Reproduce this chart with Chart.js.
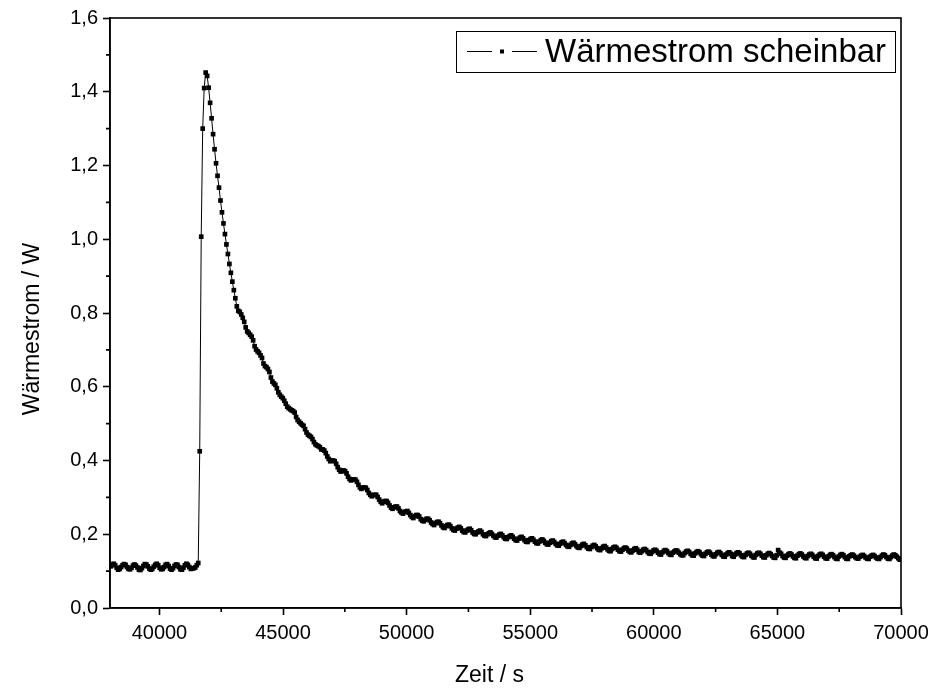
<!DOCTYPE html>
<html>
<head>
<meta charset="utf-8">
<script src="https://cdn.jsdelivr.net/npm/chart.js@4/dist/chart.umd.min.js"></script>
<style>
  body { margin: 0; background: #fff; }
  #wrap { width: 935px; height: 693px; }
</style>
</head>
<body>
<div id="wrap"><canvas id="heatChart" width="935" height="693"></canvas></div>
<script>
// sampling of the measurement (s)
const timeStart = 38030;
const timeStep = 60;

// Wärmestrom scheinbar (W)
const baselineValues = [
    0.113, 0.118, 0.120, 0.116, 0.109, 0.104, 0.106,
    0.111, 0.116, 0.119, 0.117, 0.111, 0.106, 0.105,
    0.109, 0.115, 0.118, 0.115, 0.110, 0.104, 0.103,
    0.108, 0.114, 0.119, 0.118, 0.113, 0.107, 0.104, 0.106,
    0.112, 0.117, 0.120, 0.116, 0.109, 0.105, 0.106,
    0.111, 0.117, 0.119, 0.114, 0.107, 0.104,
    0.108, 0.114, 0.118, 0.117, 0.111, 0.105, 0.104,
    0.109, 0.116, 0.120, 0.117, 0.111, 0.106, 0.107,
    0.108, 0.110, 0.116, 0.122
];

const peakValues = [
    0.425, 1.007, 1.300, 1.410, 1.452, 1.443, 1.411, 1.370, 1.328, 1.285,
    1.244, 1.206, 1.172, 1.140, 1.105, 1.073, 1.043, 1.014, 0.986, 0.960,
    0.933, 0.909, 0.885, 0.862, 0.840, 0.818
];

const decayValues = [
    0.806, 0.803, 0.796, 0.787, 0.776, 0.761, 0.750, 0.746, 0.741, 0.736,
    0.726, 0.710, 0.701, 0.696, 0.692, 0.685, 0.678, 0.663, 0.656, 0.653,
    0.648, 0.640, 0.625, 0.614, 0.609, 0.605, 0.596, 0.585, 0.578, 0.573,
    0.569, 0.562, 0.554, 0.546, 0.542, 0.539, 0.536, 0.534, 0.530, 0.518,
    0.510, 0.505, 0.501, 0.497, 0.494, 0.485, 0.476, 0.470, 0.467, 0.464,
    0.458, 0.450, 0.444, 0.441, 0.439, 0.436
];

const slowDecayValues = [
    0.430, 0.430, 0.427, 0.420, 0.411, 0.404, 0.398,
    0.400, 0.400, 0.398, 0.391, 0.382, 0.375, 0.370,
    0.372, 0.373, 0.371, 0.365, 0.356, 0.350, 0.346,
    0.348, 0.349, 0.348, 0.342, 0.334, 0.327, 0.323,
    0.326, 0.327, 0.326, 0.320, 0.312, 0.307, 0.303,
    0.306, 0.307, 0.307, 0.301, 0.294, 0.288, 0.284,
    0.288, 0.290, 0.290, 0.285, 0.278, 0.272, 0.269,
    0.273, 0.275, 0.275, 0.270, 0.263, 0.259, 0.256,
    0.260, 0.262, 0.263, 0.258, 0.252, 0.247, 0.244,
    0.249, 0.252, 0.252, 0.248, 0.241, 0.237, 0.235,
    0.239, 0.242, 0.242, 0.238, 0.232, 0.228, 0.225,
    0.230, 0.233, 0.234, 0.230, 0.224, 0.219, 0.217,
    0.222, 0.225, 0.226, 0.222, 0.216, 0.212, 0.210,
    0.215, 0.218, 0.220, 0.216, 0.210, 0.206, 0.205,
    0.210, 0.213, 0.215, 0.211, 0.205, 0.201, 0.200,
    0.205, 0.208, 0.210, 0.206, 0.200, 0.196, 0.195,
    0.200, 0.203, 0.205, 0.201, 0.196, 0.192, 0.191,
    0.196, 0.199, 0.201, 0.197, 0.192, 0.188, 0.187,
    0.192, 0.195, 0.197, 0.193, 0.188, 0.184, 0.183,
    0.188, 0.191, 0.193, 0.189, 0.184, 0.180, 0.179,
    0.184, 0.187, 0.189, 0.185, 0.180, 0.176, 0.175,
    0.180, 0.184, 0.186, 0.182, 0.177, 0.173, 0.172,
    0.177, 0.181, 0.183, 0.179, 0.174, 0.170, 0.169,
    0.174, 0.178, 0.180, 0.176, 0.171, 0.167, 0.166,
    0.171, 0.175, 0.177, 0.173, 0.168, 0.164, 0.163,
    0.168, 0.172, 0.174, 0.170, 0.165, 0.161, 0.160,
    0.165, 0.169, 0.171, 0.167, 0.162, 0.158, 0.157,
    0.162, 0.166, 0.168, 0.164, 0.159, 0.155, 0.154,
    0.160, 0.164, 0.166, 0.163, 0.158, 0.154, 0.153,
    0.158, 0.162, 0.164, 0.161, 0.156, 0.152, 0.151
];

const tailValues = [
    0.156, 0.160, 0.162, 0.158, 0.152, 0.150,
    0.154, 0.158, 0.160, 0.157, 0.152, 0.148, 0.147,
    0.152, 0.156, 0.158, 0.155, 0.150, 0.146, 0.145,
    0.151, 0.155, 0.157, 0.154, 0.149, 0.145, 0.144,
    0.150, 0.153, 0.156, 0.155, 0.150, 0.146, 0.143, 0.143,
    0.149, 0.153, 0.155, 0.152, 0.147, 0.143, 0.142,
    0.148, 0.152, 0.154, 0.151, 0.146, 0.142, 0.141,
    0.147, 0.151, 0.153, 0.150, 0.145, 0.141, 0.140,
    0.146, 0.150, 0.152, 0.149, 0.144, 0.140, 0.139,
    0.145, 0.149, 0.151, 0.147, 0.141, 0.139,
    0.145, 0.149, 0.151, 0.148, 0.143, 0.139, 0.138,
    0.144, 0.148, 0.150, 0.147, 0.142, 0.138, 0.137,
    0.144, 0.148, 0.150, 0.147, 0.142, 0.138, 0.137,
    0.143, 0.147, 0.149, 0.146, 0.141, 0.137, 0.136,
    0.143, 0.157, 0.150, 0.147, 0.141, 0.137, 0.136,
    0.142, 0.146, 0.148, 0.145, 0.140, 0.136, 0.135,
    0.142, 0.146, 0.148, 0.145, 0.140, 0.136, 0.135,
    0.141, 0.145, 0.147, 0.144, 0.139, 0.135, 0.134,
    0.141, 0.145, 0.147, 0.144, 0.139, 0.135, 0.134,
    0.140, 0.144, 0.146, 0.143, 0.138, 0.134, 0.133,
    0.140, 0.144, 0.146, 0.143, 0.138, 0.134, 0.133,
    0.140, 0.143, 0.145, 0.142, 0.138, 0.135, 0.134,
    0.139, 0.142, 0.144, 0.141, 0.137, 0.134, 0.133,
    0.139, 0.142, 0.144, 0.141, 0.137, 0.134, 0.133,
    0.138, 0.142, 0.145, 0.143, 0.138, 0.134, 0.133,
    0.138, 0.142, 0.145, 0.143, 0.139, 0.135, 0.131
];

const xTicks = [40000, 45000, 50000, 55000, 60000, 65000, 70000];
const xMinorTicks = [42500, 47500, 52500, 57500, 62500, 67500];
const yTicks = [0, 0.2, 0.4, 0.6, 0.8, 1.0, 1.2, 1.4, 1.6];
const yMinorTicks = [0.1, 0.3, 0.5, 0.7, 0.9, 1.1, 1.3, 1.5];

const seriesLabel = 'Wärmestrom scheinbar';
const fontFamily = '"Liberation Sans", Arial, sans-serif';

const heatFlow = [].concat(baselineValues, peakValues, decayValues, slowDecayValues, tailValues);
const points = heatFlow.map((v, i) => ({ x: timeStart + i * timeStep, y: v }));

// frame on all four sides plus the short minor ticks
const frameAndMinorTicks = {
    id: 'frameAndMinorTicks',
    afterDraw(chart) {
        const { ctx, chartArea: a, scales } = chart;
        ctx.save();
        ctx.strokeStyle = '#000';
        ctx.lineWidth = 1.6;
        ctx.strokeRect(a.left, a.top, a.right - a.left, a.bottom - a.top);
        ctx.beginPath();
        xMinorTicks.forEach(v => {
            const px = scales.x.getPixelForValue(v);
            ctx.moveTo(px, a.bottom);
            ctx.lineTo(px, a.bottom + 4);
        });
        yMinorTicks.forEach(v => {
            const py = scales.y.getPixelForValue(v);
            ctx.moveTo(a.left, py);
            ctx.lineTo(a.left - 4, py);
        });
        ctx.stroke();
        ctx.restore();
    }
};

// boxed legend like the original: line - marker - line, then the label
const boxedLegend = {
    id: 'boxedLegend',
    afterDraw(chart) {
        const { ctx, chartArea: a } = chart;
        const right = a.right - 6;
        const left = right - 439;
        const top = a.top + 13;
        const h = 41;
        const cy = top + h / 2;
        ctx.save();
        ctx.fillStyle = '#fff';
        ctx.fillRect(left, top, right - left, h);
        ctx.strokeStyle = '#000';
        ctx.lineWidth = 1;
        ctx.strokeRect(left + 0.5, top + 0.5, right - left, h);
        ctx.beginPath();
        ctx.moveTo(left + 11, cy);
        ctx.lineTo(left + 36, cy);
        ctx.moveTo(left + 56, cy);
        ctx.lineTo(left + 81, cy);
        ctx.stroke();
        ctx.fillStyle = '#000';
        ctx.fillRect(left + 44, cy - 2, 4, 4);
        ctx.font = '33px ' + fontFamily;
        ctx.textBaseline = 'middle';
        ctx.fillText(seriesLabel, left + 89, cy + 1);
        ctx.restore();
    }
};

new Chart(document.getElementById('heatChart'), {
    type: 'line',
    data: {
        datasets: [{
            label: seriesLabel,
            data: points,
            borderColor: '#000',
            borderWidth: 1,
            pointStyle: 'rect',
            pointRadius: 3.3,
            pointBackgroundColor: '#000',
            pointBorderWidth: 0,
            tension: 0,
            fill: false
        }]
    },
    options: {
        responsive: false,
        animation: false,
        devicePixelRatio: 1,
        layout: { padding: { left: 15, top: 18, right: 34, bottom: 0 } },
        plugins: {
            legend: { display: false },
            tooltip: { enabled: false }
        },
        scales: {
            x: {
                type: 'linear',
                min: 38000,
                max: 70000,
                afterBuildTicks: scale => { scale.ticks = xTicks.map(v => ({ value: v })); },
                afterFit: scale => { scale.height = 85; },
                grid: { drawOnChartArea: false, tickLength: 7, tickWidth: 1.6, tickColor: '#000' },
                border: { color: '#000', width: 1.6 },
                ticks: {
                    color: '#000',
                    padding: 6,
                    maxRotation: 0,
                    font: { family: fontFamily, size: 20 },
                    callback: v => String(v)
                },
                title: {
                    display: true,
                    // trailing spaces move the centred title a little left, as in the original
                    text: 'Zeit / s     ',
                    color: '#000',
                    font: { family: fontFamily, size: 23 }
                }
            },
            y: {
                min: 0,
                max: 1.6,
                afterBuildTicks: scale => { scale.ticks = yTicks.map(v => ({ value: v })); },
                afterFit: scale => { scale.width = 95; },
                grid: { drawOnChartArea: false, tickLength: 7, tickWidth: 1.6, tickColor: '#000' },
                border: { color: '#000', width: 1.6 },
                ticks: {
                    color: '#000',
                    padding: 5,
                    font: { family: fontFamily, size: 20 },
                    callback: v => v.toFixed(1).replace('.', ',')
                },
                title: {
                    display: true,
                    text: 'Wärmestrom / W     ',
                    color: '#000',
                    font: { family: fontFamily, size: 23 }
                }
            }
        }
    },
    plugins: [frameAndMinorTicks, boxedLegend]
});
</script>
</body>
</html>
